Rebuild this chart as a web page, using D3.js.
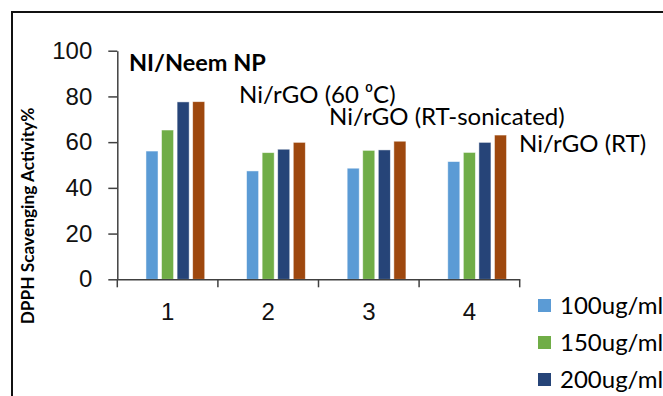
<!DOCTYPE html>
<html>
<head>
<meta charset="utf-8">
<script src="https://cdn.jsdelivr.net/npm/d3@7"></script>
<style>
  body { margin: 0; background: #fff; }
  svg { display: block; font-family: Lato, "Open Sans", sans-serif; }
</style>
</head>
<body>
<svg width="663" height="396"></svg>
<script>
var width = 663, height = 396;

// data
var categories = ["1", "2", "3", "4"];
var seriesNames = ["100ug/ml", "150ug/ml", "200ug/ml", "250ug/ml"];
var s100 = [56.1, 47.4, 48.6, 51.5];
var s150 = [65.3, 55.4, 56.4, 55.5];
var s200 = [77.6, 56.9, 56.6, 59.9];
var s250 = [77.7, 59.9, 60.4, 63.1];
var yTicks = [0, 20, 40, 60, 80, 100];
var labels = ["Ni/rGO (60 ⁰C)", "Ni/rGO (RT-sonicated)", "Ni/rGO (RT)"];

var colors = ["#5b9bd5", "#70ad47", "#264478", "#9e480e"];
var values = [s100, s150, s200, s250];

var svg = d3.select('svg');

// outer frame (chart is cropped at right and bottom)
svg.append('rect')
  .attr('x', 12).attr('y', 12)
  .attr('width', 760).attr('height', 500)
  .attr('fill', 'none')
  .attr('stroke', '#111')
  .attr('stroke-width', 2);

var y = d3.scaleLinear()
  .domain([0, 100])
  .range([279.3, 50.7]);

var x0 = d3.scaleBand()
  .domain(categories)
  .range([117.3, 519.7])
  .padding(0);

var bw = x0.bandwidth();
var x1 = d3.scaleBand()
  .domain(seriesNames)
  .range([bw * 0.285, bw * 0.869])
  .paddingInner(0.226)
  .paddingOuter(0);

var rows = categories.map(function(c, i) {
  return seriesNames.map(function(s, j) {
    return {cat: c, series: s, value: values[j][i], color: colors[j]};
  });
});

var g = svg.selectAll('g.cat')
  .data(rows)
  .enter()
  .append('g')
  .attr('class', 'cat')
  .attr('transform', function(d, i) { return 'translate(' + x0(categories[i]) + ',0)'; });

g.selectAll('rect')
  .data(function(d) { return d; })
  .enter()
  .append('rect')
  .attr('x', function(d) { return x1(d.series); })
  .attr('width', x1.bandwidth())
  .attr('y', function(d) { return y(d.value); })
  .attr('height', function(d) { return y(0) - y(d.value); })
  .attr('fill', function(d) { return d.color; })
  .attr('stroke', 'rgba(255,255,255,0.6)')
  .attr('stroke-width', 0.8);

// y axis
var yAxis = svg.append('g')
  .attr('transform', 'translate(117.3,0)')
  .call(d3.axisLeft(y).tickValues(yTicks).tickSize(9).tickPadding(16).tickSizeOuter(0));
yAxis.selectAll('text').attr('font-size', 24).attr('fill', '#111');

// x axis: labels at centres, ticks at boundaries
var xAxis = svg.append('g')
  .attr('transform', 'translate(0,' + y(0) + ')')
  .call(d3.axisBottom(x0).tickSize(0).tickPadding(24).tickSizeOuter(0));
xAxis.selectAll('text').attr('font-size', 24).attr('fill', '#111');

var bounds = categories.map(function(c) { return x0(c); }).concat([x0.range()[1]]);
xAxis.selectAll('line.bnd')
  .data(bounds)
  .enter()
  .append('line')
  .attr('class', 'bnd')
  .attr('x1', function(d) { return d; })
  .attr('x2', function(d) { return d; })
  .attr('y1', 0).attr('y2', 8)
  .attr('stroke', 'currentColor');

svg.selectAll('.domain, .tick line, line.bnd')
  .attr('stroke', '#404040')
  .attr('stroke-width', 1.5);

// y axis title
svg.append('text')
  .attr('transform', 'translate(34,216) rotate(-90)')
  .attr('text-anchor', 'middle')
  .attr('font-weight', 'bold')
  .attr('font-size', 17.3)
  .text('DPPH Scavenging Activity%');

// chart title inside plot
svg.append('text')
  .attr('x', 129).attr('y', 71)
  .attr('font-weight', 'bold')
  .attr('font-size', 23.5)
  .text('NI/Neem NP');

// sample labels
var labelPos = [[239, 103], [329, 125], [519, 152]];
svg.selectAll('text.lab')
  .data(labels)
  .enter()
  .append('text')
  .attr('class', 'lab')
  .attr('x', function(d, i) { return labelPos[i][0]; })
  .attr('y', function(d, i) { return labelPos[i][1]; })
  .attr('font-size', 24)
  .text(function(d) { return d; });

// legend
var leg = svg.selectAll('g.leg')
  .data(seriesNames)
  .enter()
  .append('g')
  .attr('class', 'leg')
  .attr('transform', function(d, i) { return 'translate(538,' + (299 + i * 37) + ')'; });

leg.append('rect')
  .attr('width', 13).attr('height', 13)
  .attr('fill', function(d, i) { return colors[i]; });

leg.append('text')
  .attr('x', 22).attr('y', 15)
  .attr('font-size', 24)
  .text(function(d) { return d; });
</script>
</body>
</html>
